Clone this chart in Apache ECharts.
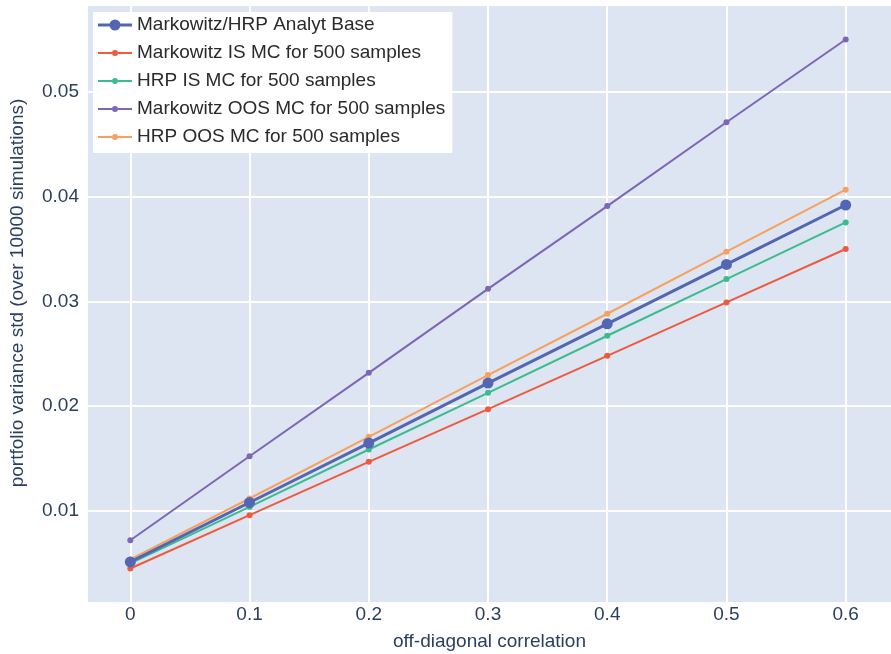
<!DOCTYPE html>
<html>
<head>
<meta charset="utf-8">
<script src="https://cdn.jsdelivr.net/npm/echarts@6/dist/echarts.min.js"></script>
<style>html,body{margin:0;padding:0;background:#fff}#c{width:891px;height:654px}</style>
</head>
<body>
<div id="c"></div>
<script>
const correlations = [0, 0.1, 0.2, 0.3, 0.4, 0.5, 0.6];
const analytBase   = [0.00513, 0.0108, 0.01647, 0.0222, 0.02786, 0.03353, 0.0392];
const markowitzIS  = [0.0045, 0.00959, 0.01468, 0.01971, 0.0248, 0.0299, 0.0350];
const hrpIS        = [0.00498, 0.01038, 0.01586, 0.02127, 0.02672, 0.03213, 0.03754];
const markowitzOOS = [0.0072, 0.01522, 0.02318, 0.0312, 0.0391, 0.0471, 0.0550];
const hrpOOS       = [0.00536, 0.01118, 0.01707, 0.02296, 0.02882, 0.03474, 0.04066];
const xTicks = [0, 0.1, 0.2, 0.3, 0.4, 0.5, 0.6];
const yTicks = [0.01, 0.02, 0.03, 0.04, 0.05];

const names = ['Markowitz/HRP Analyt Base','Markowitz IS MC for 500 samples','HRP IS MC for 500 samples','Markowitz OOS MC for 500 samples','HRP OOS MC for 500 samples'];
const colors = ['#5366b3','#ef5a3f','#3cbb8e','#7d67b5','#f7a05f'];
const values = [analytBase, markowitzIS, hrpIS, markowitzOOS, hrpOOS];
const font = '"Liberation Sans", Arial, Helvetica, sans-serif';

const iconSmall = 'path://M0,6L14,6L14,8L0,8Z M20,6L34,6L34,8L20,8Z M20,7A3,3 0 1,1 14,7A3,3 0 1,1 20,7Z';
const iconBig = 'path://M0,5.5L12,5.5L12,8.5L0,8.5Z M22,5.5L34,5.5L34,8.5L22,8.5Z M22.5,7A5.5,5.5 0 1,1 11.5,7A5.5,5.5 0 1,1 22.5,7Z';

const series = values.map((v, i) => ({
  name: names[i],
  type: 'line',
  data: correlations.map((x, j) => [x, v[j]]),
  symbol: 'circle',
  symbolSize: i === 0 ? 11 : 6,
  lineStyle: {width: i === 0 ? 3 : 2, color: colors[i]},
  itemStyle: {color: colors[i]},
  z: i === 0 ? 3 : 2,
  animation: false
}));

const chart = echarts.init(document.getElementById('c'), null, {renderer: 'canvas'});
chart.setOption({
  animation: false,
  color: colors,
  grid: {left: 88, right: 0, top: 6, bottom: 52, containLabel: false, outerBoundsMode: 'none', show: true, backgroundColor: '#dce5f1', borderWidth: 0},
  legend: {
    orient: 'vertical', left: 93, top: 12,
    backgroundColor: '#ffffff',
    padding: [3, 7, 6, 5],
    itemWidth: 34, itemHeight: 14, itemGap: 8,
    symbolKeepAspect: true,
    textStyle: {fontFamily: font, fontSize: 19, color: '#2a2a2a', lineHeight: 20},
    data: names.map((n, i) => ({name: n, icon: i === 0 ? iconBig : iconSmall}))
  },
  xAxis: {
    type: 'value', min: -0.0355, max: 0.638,
    name: 'off-diagonal correlation', nameLocation: 'middle', nameGap: 30,
    nameTextStyle: {fontFamily: font, fontSize: 19, color: '#2a3f5f'},
    axisLine: {show: false},
    axisTick: {show: false, customValues: xTicks},
    axisLabel: {customValues: xTicks, fontFamily: font, fontSize: 19, color: '#2a3f5f', margin: 3,
      formatter: v => String(Math.round(v * 10) / 10)},
    splitLine: {show: true, lineStyle: {color: '#ffffff', width: 2}}
  },
  yAxis: {
    type: 'value', min: 0.0013, max: 0.0582,
    name: 'portfolio variance std (over 10000 simulations)', nameLocation: 'middle', nameGap: 61,
    nameTextStyle: {fontFamily: font, fontSize: 19, color: '#2a3f5f', padding: [0, 0, 0, 22]},
    axisLine: {show: false},
    axisTick: {show: false, customValues: yTicks},
    axisLabel: {customValues: yTicks, fontFamily: font, fontSize: 19, color: '#2a3f5f', margin: 9,
      formatter: v => String(Math.round(v * 100) / 100)},
    splitLine: {show: true, lineStyle: {color: '#ffffff', width: 2}}
  },
  series: series
});
</script>
</body>
</html>
